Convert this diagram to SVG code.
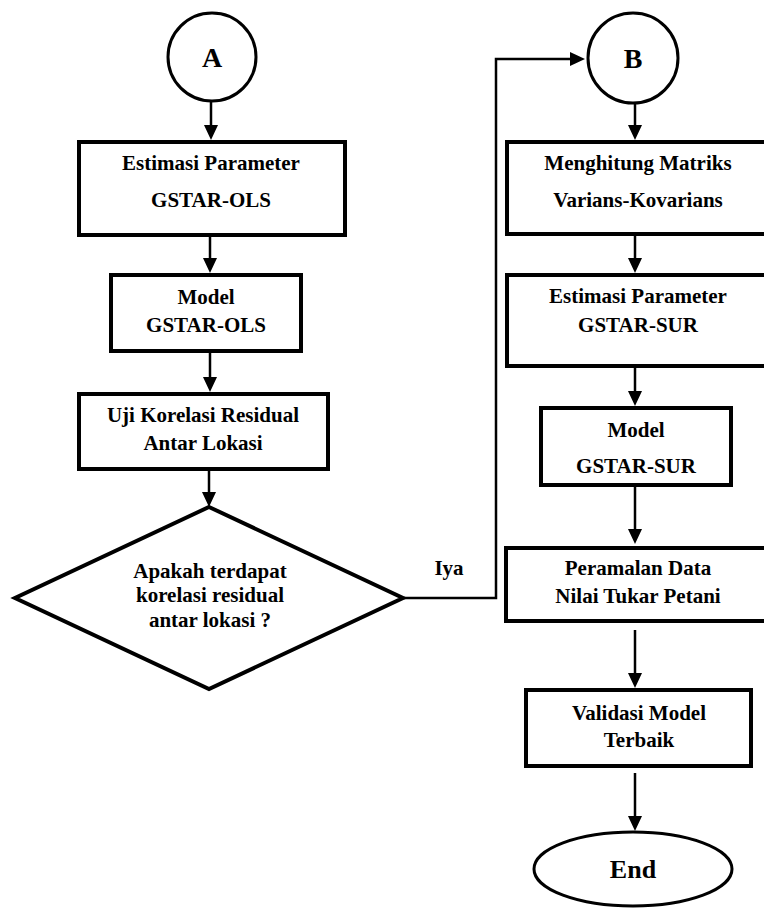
<svg xmlns="http://www.w3.org/2000/svg" width="764" height="909" viewBox="0 0 764 909">
<defs>
<style>
.box{fill:#fff;stroke:#000;stroke-width:4}
.circ{fill:#fff;stroke:#000;stroke-width:3}
.dia{fill:#fff;stroke:#000;stroke-width:4;stroke-linejoin:miter}
.con{fill:none;stroke:#000;stroke-width:2.5}
text{font-family:"Liberation Serif","Times New Roman",serif;font-weight:bold;font-size:21px;fill:#000;text-anchor:middle}
.big{font-size:28px}
.end{font-size:26px}
</style>
<marker id="ah" markerUnits="userSpaceOnUse" markerWidth="15" markerHeight="14" refX="3" refY="7" orient="auto" viewBox="0 0 15 14">
<path d="M0,0 L15,7 L0,14 z" fill="#000"/>
</marker>
</defs>
<rect width="764" height="909" fill="#fff"/>
<g id="connectors">
<line class="con" x1="211" y1="102" x2="211" y2="128" marker-end="url(#ah)"/>
<line class="con" x1="210" y1="237" x2="210" y2="261" marker-end="url(#ah)"/>
<line class="con" x1="210" y1="353" x2="210" y2="380" marker-end="url(#ah)"/>
<line class="con" x1="209" y1="471" x2="209" y2="495" marker-end="url(#ah)"/>
<polyline class="con" points="404,598 496,598 496,59 573,59" marker-end="url(#ah)"/>
<line class="con" x1="635" y1="103" x2="635" y2="128" marker-end="url(#ah)"/>
<line class="con" x1="635" y1="236" x2="635" y2="261" marker-end="url(#ah)"/>
<line class="con" x1="635" y1="368" x2="635" y2="394" marker-end="url(#ah)"/>
<line class="con" x1="635" y1="487" x2="635" y2="532" marker-end="url(#ah)"/>
<line class="con" x1="635" y1="630" x2="635" y2="676" marker-end="url(#ah)"/>
<line class="con" x1="635" y1="773" x2="635" y2="819" marker-end="url(#ah)"/>
<text x="449" y="575">Iya</text>
</g>
<g id="nodeA">
<circle class="circ" cx="212" cy="57" r="44"/>
<text class="big" x="212" y="67">A</text>
</g>
<g id="estimasiOLS">
<rect class="box" x="79" y="142" width="266" height="93"/>
<text x="211" y="170">Estimasi Parameter</text>
<text x="211" y="207">GSTAR-OLS</text>
</g>
<g id="modelOLS">
<rect class="box" x="111" y="275" width="190" height="76"/>
<text x="206" y="304">Model</text>
<text x="206" y="332">GSTAR-OLS</text>
</g>
<g id="ujiKorelasi">
<rect class="box" x="79" y="394" width="249" height="75"/>
<text x="203" y="422">Uji Korelasi Residual</text>
<text x="203" y="450">Antar Lokasi</text>
</g>
<g id="decision">
<polygon class="dia" points="209,507 403,598 209,689 15,598"/>
<text x="210" y="578">Apakah terdapat</text>
<text x="210" y="602">korelasi residual</text>
<text x="210" y="627">antar lokasi ?</text>
</g>
<g id="nodeB">
<circle class="circ" cx="633" cy="58" r="45"/>
<text class="big" x="633" y="68">B</text>
</g>
<g id="matriks">
<rect class="box" x="507" y="142" width="262" height="92"/>
<text x="638" y="170">Menghitung Matriks</text>
<text x="638" y="207">Varians-Kovarians</text>
</g>
<g id="estimasiSUR">
<rect class="box" x="507" y="275" width="262" height="91"/>
<text x="638" y="303">Estimasi Parameter</text>
<text x="638" y="332">GSTAR-SUR</text>
</g>
<g id="modelSUR">
<rect class="box" x="541" y="408" width="190" height="77"/>
<text x="636" y="437">Model</text>
<text x="636" y="473">GSTAR-SUR</text>
</g>
<g id="peramalan">
<rect class="box" x="506" y="548" width="263" height="73"/>
<text x="638" y="575">Peramalan Data</text>
<text x="638" y="603">Nilai Tukar Petani</text>
</g>
<g id="validasi">
<rect class="box" x="526" y="690" width="225" height="76"/>
<text x="639" y="720">Validasi Model</text>
<text x="639" y="747">Terbaik</text>
</g>
<g id="end">
<ellipse class="circ" cx="633" cy="869" rx="99" ry="37"/>
<text class="end" x="633" y="878">End</text>
</g>
</svg>
